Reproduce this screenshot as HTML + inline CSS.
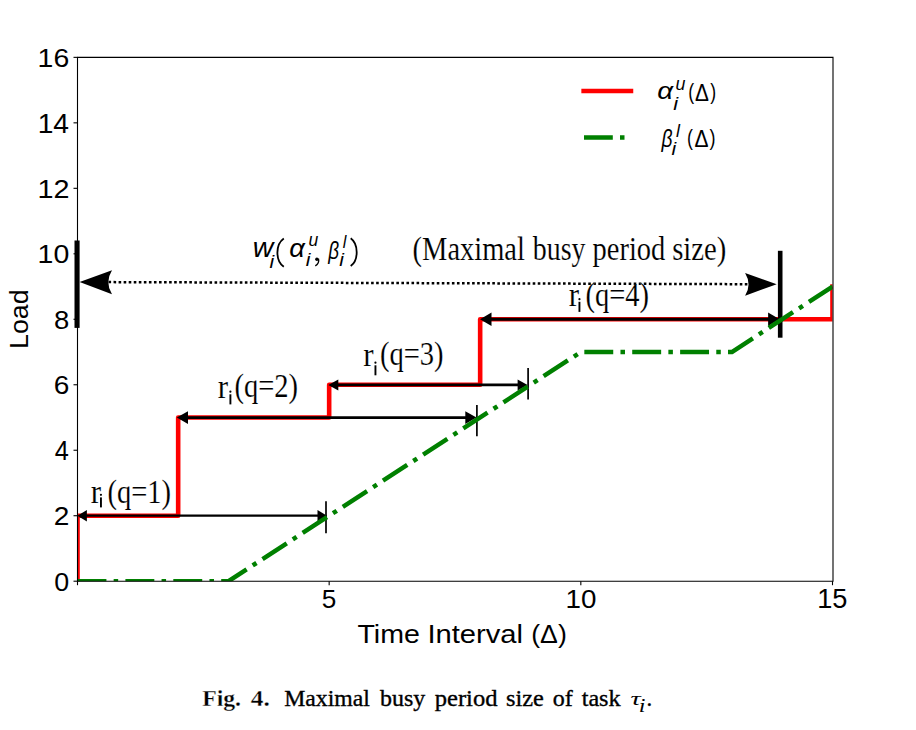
<!DOCTYPE html>
<html><head><meta charset="utf-8"><style>
html,body{margin:0;padding:0;background:#fff;width:916px;height:730px;overflow:hidden}
svg{display:block}
.ff-sans{font-family:"Liberation Sans",sans-serif}
.ff-serif{font-family:"Liberation Serif",serif}
</style></head><body>
<svg width="916" height="730" viewBox="0 0 916 730">
<defs><clipPath id="ax"><rect x="77.5" y="57.4" width="755" height="523.8"/></clipPath></defs>
<rect width="916" height="730" fill="#fff"/>
<path d="M77.50,581.20 L77.50,515.72 L178.17,515.72 L178.17,417.50 L329.16,417.50 L329.16,384.76 L480.16,384.76 L480.16,319.28 L832.50,319.28 L832.50,286.54" fill="none" stroke="#ff0000" stroke-width="4.6" stroke-linejoin="round" stroke-linecap="square" clip-path="url(#ax)"/>
<line x1="85.00" y1="515.70" x2="319.40" y2="515.70" stroke="#000" stroke-width="2.2"/>
<polygon points="77.40,515.70 86.90,509.90 86.90,521.50" fill="#000"/>
<polygon points="327.00,515.70 317.50,509.90 317.50,521.50" fill="#000"/>
<line x1="326.0" y1="501.3" x2="326.0" y2="533.2" stroke="#000" stroke-width="1.7"/>
<line x1="185.76" y1="417.60" x2="467.54" y2="417.60" stroke="#000" stroke-width="2.9"/>
<polygon points="176.80,417.60 188.00,411.20 188.00,424.00" fill="#000"/>
<polygon points="476.50,417.60 465.30,411.20 465.30,424.00" fill="#000"/>
<line x1="476.9" y1="404.9" x2="476.9" y2="436.3" stroke="#000" stroke-width="1.7"/>
<line x1="336.30" y1="384.90" x2="519.60" y2="384.90" stroke="#000" stroke-width="2.6"/>
<polygon points="328.30,384.90 338.30,379.40 338.30,390.40" fill="#000"/>
<polygon points="527.60,384.90 517.60,379.40 517.60,390.40" fill="#000"/>
<line x1="528.1" y1="368.0" x2="528.1" y2="399.5" stroke="#000" stroke-width="1.7"/>
<line x1="489.20" y1="319.30" x2="770.40" y2="319.30" stroke="#000" stroke-width="3.1"/>
<polygon points="480.00,319.30 491.50,312.60 491.50,326.00" fill="#000"/>
<polygon points="779.60,319.30 768.10,312.60 768.10,326.00" fill="#000"/>
<line x1="108.5" y1="282.1" x2="748" y2="284.2" stroke="#000" stroke-width="2.5" stroke-dasharray="2.6 2.45"/>
<path d="M79.6,282.0 L112.0,270.2 Q104.5,282.3 112.0,294.2 Z" fill="#000"/>
<path d="M776.7,284.2 L745.1,273.0 Q752.0,284.4 745.1,295.8 Z" fill="#000"/>
<rect x="74.5" y="240.5" width="5.1" height="87.4" fill="#000"/>
<rect x="777.9" y="250.8" width="4.6" height="86.9" fill="#000"/>
<path d="M77.50,581.20 L228.50,581.20 L580.83,352.02 L731.83,352.02 L832.50,286.54" fill="none" stroke="#008000" stroke-width="4.5" stroke-dasharray="28.92 7.23 4.52 7.23" stroke-linejoin="round" clip-path="url(#ax)"/>
<path d="M77.5,57.4 H833.0 V581.2 H77.5 Z" fill="none" stroke="#000" stroke-width="1.1"/>
<line x1="73.5" y1="581.20" x2="77.5" y2="581.20" stroke="#000" stroke-width="1.1"/>
<line x1="73.5" y1="515.72" x2="77.5" y2="515.72" stroke="#000" stroke-width="1.1"/>
<line x1="73.5" y1="450.24" x2="77.5" y2="450.24" stroke="#000" stroke-width="1.1"/>
<line x1="73.5" y1="384.76" x2="77.5" y2="384.76" stroke="#000" stroke-width="1.1"/>
<line x1="73.5" y1="319.28" x2="77.5" y2="319.28" stroke="#000" stroke-width="1.1"/>
<line x1="73.5" y1="253.80" x2="77.5" y2="253.80" stroke="#000" stroke-width="1.1"/>
<line x1="73.5" y1="188.32" x2="77.5" y2="188.32" stroke="#000" stroke-width="1.1"/>
<line x1="73.5" y1="122.84" x2="77.5" y2="122.84" stroke="#000" stroke-width="1.1"/>
<line x1="73.5" y1="57.36" x2="77.5" y2="57.36" stroke="#000" stroke-width="1.1"/>
<line x1="77.50" y1="581.2" x2="77.50" y2="585.2" stroke="#000" stroke-width="1.1"/>
<line x1="329.16" y1="581.2" x2="329.16" y2="585.2" stroke="#000" stroke-width="1.1"/>
<line x1="580.83" y1="581.2" x2="580.83" y2="585.2" stroke="#000" stroke-width="1.1"/>
<line x1="832.50" y1="581.2" x2="832.50" y2="585.2" stroke="#000" stroke-width="1.1"/>
<circle cx="100.95" cy="494.80" r="1.1" fill="#000"/>
<rect x="100.00" y="497.40" width="1.9" height="10.00" fill="#000"/>
<circle cx="230.40" cy="391.70" r="1.1" fill="#000"/>
<rect x="229.45" y="394.30" width="1.9" height="10.10" fill="#000"/>
<circle cx="375.45" cy="362.70" r="1.1" fill="#000"/>
<rect x="374.50" y="365.30" width="1.9" height="10.00" fill="#000"/>
<circle cx="579.45" cy="299.20" r="1.1" fill="#000"/>
<rect x="578.50" y="301.80" width="1.9" height="10.10" fill="#000"/>
<circle cx="316.9" cy="259.3" r="1.75" fill="#000"/>
<path d="M318.5,258.6 Q319.6,263.2 315.3,265.9" fill="none" stroke="#000" stroke-width="1.3"/>
<path d="M283.80,238.40 C275.27,244.37 275.27,260.83 283.80,266.80" fill="none" stroke="#000" stroke-width="1.8"/>
<path d="M350.70,238.30 C358.70,244.14 358.70,260.26 350.70,266.10" fill="none" stroke="#000" stroke-width="1.8"/>
<line x1="583.6" y1="91.0" x2="631.0" y2="91.0" stroke="#ff0000" stroke-width="4.5" stroke-linecap="square"/>
<line x1="584.0" y1="137.4" x2="631.5" y2="137.4" stroke="#008000" stroke-width="4.5" stroke-dasharray="28.8 7.2 4.5 7.2"/>
<text class="ff-sans" transform="matrix(0.2687,0,0,0.2606,54.125,590.639)" font-size="100">0</text>
<text class="ff-sans" transform="matrix(0.2804,0,0,0.2643,53.798,525.420)" font-size="100">2</text>
<text class="ff-sans" transform="matrix(0.2529,0,0,0.2721,54.694,460.212)" font-size="100">4</text>
<text class="ff-sans" transform="matrix(0.2804,0,0,0.2606,53.798,394.199)" font-size="100">6</text>
<text class="ff-sans" transform="matrix(0.2745,0,0,0.2606,54.102,328.719)" font-size="100">8</text>
<text class="ff-sans" transform="matrix(0.2848,0,0,0.2606,37.621,263.239)" font-size="100">10</text>
<text class="ff-sans" transform="matrix(0.2878,0,0,0.2643,37.598,198.020)" font-size="100">12</text>
<text class="ff-sans" transform="matrix(0.2820,0,0,0.2681,37.644,132.540)" font-size="100">14</text>
<text class="ff-sans" transform="matrix(0.2848,0,0,0.2606,37.621,66.799)" font-size="100">16</text>
<text class="ff-sans" transform="matrix(0.2617,0,0,0.2671,321.853,607.933)" font-size="100">5</text>
<text class="ff-sans" transform="matrix(0.2778,0,0,0.2634,565.478,607.937)" font-size="100">10</text>
<text class="ff-sans" transform="matrix(0.2717,0,0,0.2671,817.126,607.933)" font-size="100">15</text>
<text class="ff-sans" transform="matrix(0.2858,0,0,0.2652,357.428,643.100)" font-size="100">Time</text>
<text class="ff-sans" transform="matrix(0.2917,0,0,0.2652,427.375,643.100)" font-size="100">Interval</text>
<text class="ff-sans" transform="matrix(0.2669,0,0,0.2652,531.198,643.100)" font-size="100">(Δ)</text>
<text class="ff-sans" transform="matrix(0,-0.2673076923076924,0.2594594594594595,0,28.041,348.938)" font-size="100">Load</text>
<text class="ff-sans" transform="matrix(0.2847,0,0,0.2849,252.676,256.900)" font-size="100" font-style="italic">w</text>
<text class="ff-sans" transform="matrix(0.2091,0,0,0.1890,269.582,267.700)" font-size="100" font-style="italic">i</text>
<text class="ff-sans" transform="matrix(0.2732,0,0,0.2564,289.180,256.644)" font-size="100" font-style="italic">α</text>
<text class="ff-sans" transform="matrix(0.1760,0,0,0.1870,308.496,245.813)" font-size="100" font-style="italic">u</text>
<text class="ff-sans" transform="matrix(0.2091,0,0,0.1890,305.782,265.700)" font-size="100" font-style="italic">i</text>
<text class="ff-sans" transform="matrix(0.1895,0,0,0.2436,328.179,258.584)" font-size="100" font-style="italic">β</text>
<text class="ff-sans" transform="matrix(0.1636,0,0,0.1861,342.873,247.786)" font-size="100" font-style="italic">l</text>
<text class="ff-sans" transform="matrix(0.2091,0,0,0.1795,339.182,266.300)" font-size="100" font-style="italic">i</text>
<text class="ff-sans" transform="matrix(0.2786,0,0,0.2382,657.364,99.362)" font-size="100" font-style="italic">α</text>
<text class="ff-sans" transform="matrix(0.1780,0,0,0.1778,675.588,89.522)" font-size="100" font-style="italic">u</text>
<text class="ff-sans" transform="matrix(0.2182,0,0,0.1849,673.164,109.600)" font-size="100" font-style="italic">i</text>
<text class="ff-sans" transform="matrix(0.1769,0,0,0.2149,688.338,98.987)" font-size="100">(</text>
<text class="ff-sans" transform="matrix(0.2082,0,0,0.2420,694.875,100.700)" font-size="100">Δ</text>
<text class="ff-sans" transform="matrix(0.1769,0,0,0.2149,710.223,98.987)" font-size="100">)</text>
<text class="ff-sans" transform="matrix(0.1930,0,0,0.2415,661.386,146.629)" font-size="100" font-style="italic">β</text>
<text class="ff-sans" transform="matrix(0.1773,0,0,0.1917,675.945,136.992)" font-size="100" font-style="italic">l</text>
<text class="ff-sans" transform="matrix(0.2091,0,0,0.1849,671.582,155.300)" font-size="100" font-style="italic">i</text>
<text class="ff-sans" transform="matrix(0.1769,0,0,0.2191,686.938,144.998)" font-size="100">(</text>
<text class="ff-sans" transform="matrix(0.2098,0,0,0.2406,694.470,146.700)" font-size="100">Δ</text>
<text class="ff-sans" transform="matrix(0.1808,0,0,0.2191,709.419,144.998)" font-size="100">)</text>
<text class="ff-serif" transform="matrix(0.2851,0,0,0.3308,412.560,259.700)" font-size="100" stroke="#fff" stroke-width="0.421">(Maximal</text>
<text class="ff-serif" transform="matrix(0.2794,0,0,0.3308,532.700,259.700)" font-size="100" stroke="#fff" stroke-width="0.430">busy</text>
<text class="ff-serif" transform="matrix(0.2849,0,0,0.3308,592.530,259.700)" font-size="100" stroke="#fff" stroke-width="0.421">period</text>
<text class="ff-serif" transform="matrix(0.2872,0,0,0.3308,672.151,259.700)" font-size="100" stroke="#fff" stroke-width="0.418">size)</text>
<text class="ff-serif" transform="matrix(0.3100,0,0,0.3304,90.780,503.330)" font-size="100" stroke="#fff" stroke-width="0.387">r</text>
<text class="ff-serif" transform="matrix(0.2856,0,0,0.3333,107.458,502.900)" font-size="100" stroke="#fff" stroke-width="0.420">(q=1)</text>
<text class="ff-serif" transform="matrix(0.3100,0,0,0.3304,217.780,397.830)" font-size="100" stroke="#fff" stroke-width="0.387">r</text>
<text class="ff-serif" transform="matrix(0.2856,0,0,0.3333,234.458,397.400)" font-size="100" stroke="#fff" stroke-width="0.420">(q=2)</text>
<text class="ff-serif" transform="matrix(0.3100,0,0,0.3304,363.280,365.830)" font-size="100" stroke="#fff" stroke-width="0.387">r</text>
<text class="ff-serif" transform="matrix(0.2856,0,0,0.3333,379.958,365.400)" font-size="100" stroke="#fff" stroke-width="0.420">(q=3)</text>
<text class="ff-serif" transform="matrix(0.3100,0,0,0.3304,568.780,305.830)" font-size="100" stroke="#fff" stroke-width="0.387">r</text>
<text class="ff-serif" transform="matrix(0.2856,0,0,0.3333,585.458,305.900)" font-size="100" stroke="#fff" stroke-width="0.420">(q=4)</text>
<text class="ff-serif" transform="matrix(0.2376,0,0,0.2277,202.125,705.800)" font-size="100" font-weight="bold" stroke="#fff" stroke-width="1.318">Fig.</text>
<text class="ff-serif" transform="matrix(0.2529,0,0,0.2277,250.747,705.800)" font-size="100" font-weight="bold" stroke="#fff" stroke-width="1.318">4.</text>
<text class="ff-serif" transform="matrix(0.2374,0,0,0.2277,284.188,705.800)" font-size="100" stroke="#000" stroke-width="1.537">Maximal</text>
<text class="ff-serif" transform="matrix(0.2392,0,0,0.2277,380.100,705.800)" font-size="100" stroke="#000" stroke-width="1.537">busy</text>
<text class="ff-serif" transform="matrix(0.2456,0,0,0.2277,434.709,705.800)" font-size="100" stroke="#000" stroke-width="1.537">period</text>
<text class="ff-serif" transform="matrix(0.2432,0,0,0.2277,506.027,705.800)" font-size="100" stroke="#000" stroke-width="1.537">size</text>
<text class="ff-serif" transform="matrix(0.2405,0,0,0.2277,552.838,705.800)" font-size="100" stroke="#000" stroke-width="1.537">of</text>
<text class="ff-serif" transform="matrix(0.2419,0,0,0.2277,581.658,705.800)" font-size="100" stroke="#000" stroke-width="1.537">task</text>
<text class="ff-serif" transform="matrix(0.2838,0,0,0.1957,630.432,705.404)" font-size="100" font-style="italic">τ</text>
<text class="ff-serif" transform="matrix(0.2421,0,0,0.1815,638.747,711.500)" font-size="100" font-style="italic">i</text>
<text class="ff-serif" transform="matrix(0.2277,0,0,0.2277,646.506,705.800)" font-size="100" stroke="#000" stroke-width="1.537">.</text>
</svg>
</body></html>
